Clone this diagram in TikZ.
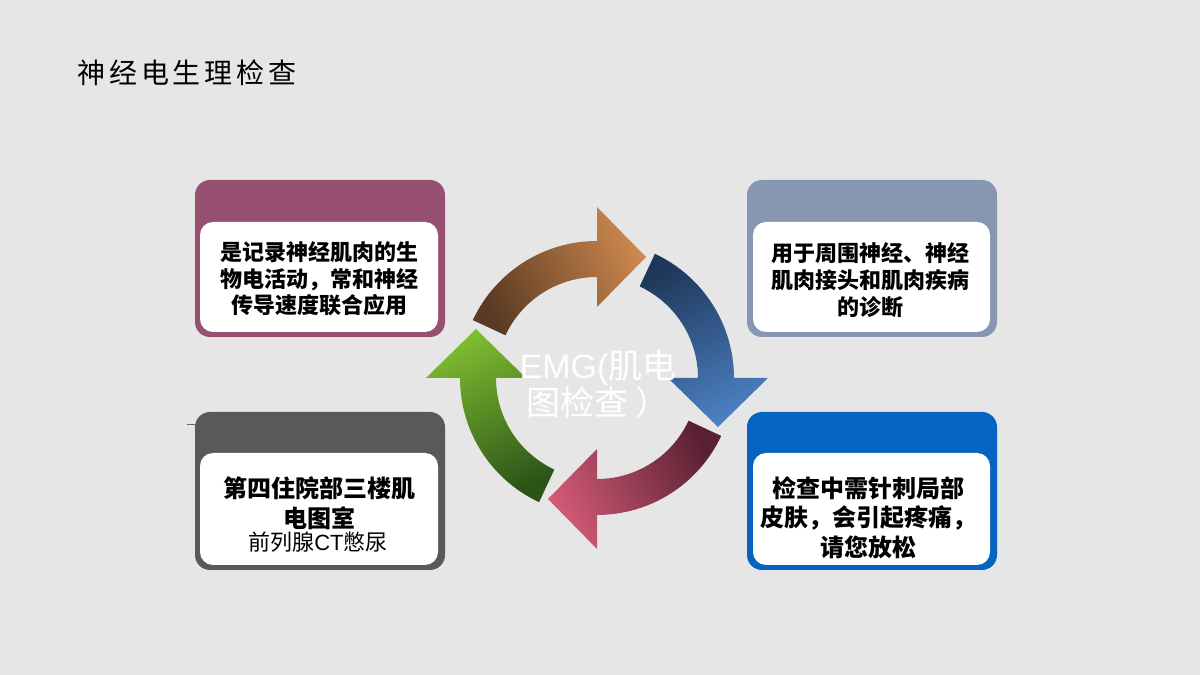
\documentclass[tikz,border=0pt]{standalone}
\usepackage{fontspec}
\setmainfont{Liberation Sans}
\newfontfamily\cjk{Noto Sans CJK SC}
\newfontfamily\cjkt{Noto Sans CJK SC}[LetterSpace=14]
\usetikzlibrary{calc}
\definecolor{bg}{RGB}{230,230,230}
\definecolor{cTL}{RGB}{151,80,114}
\definecolor{cTR}{RGB}{135,151,177}
\definecolor{cBL}{RGB}{89,89,89}
\definecolor{cBR}{RGB}{5,99,193}
\definecolor{oD}{RGB}{90,58,34}
\definecolor{oL}{RGB}{204,136,78}
\definecolor{bD}{RGB}{31,56,90}
\definecolor{bL}{RGB}{76,128,194}
\definecolor{pD}{RGB}{88,32,50}
\definecolor{pL}{RGB}{210,90,118}
\definecolor{gD}{RGB}{44,84,24}
\definecolor{gL}{RGB}{126,188,48}
\newcommand\cyclearrow[2]{%
  \shade[#2] ($(C)+(#1+65:137)$) arc[start angle=#1+65, end angle=#1, radius=137]
    -- ($(C)+(#1:171)$) -- ($(C)+(#1:121)+(#1-90:49)$) -- ($(C)+(#1:71)$)
    -- ($(C)+(#1:101)$) arc[start angle=#1, end angle=#1+65, radius=101] -- cycle;}
\begin{document}
\begin{tikzpicture}[x=1pt,y=1pt,
  outerbox/.style={rounded corners=15pt},
  innerbox/.style={fill=white, rounded corners=13pt},
  boxtext/.style={align=center, text=black, inner sep=0pt},
  topfont/.style={font=\cjk\bfseries\fontsize{22}{26.5}\selectfont},
  botfont/.style={font=\cjk\bfseries\fontsize{24}{29.5}\selectfont},
]
\fill[bg] (0,0) rectangle (1200,675);
\useasboundingbox (0,0) rectangle (1200,675);

\node[anchor=west, inner sep=0pt, font=\cjkt\fontsize{28}{32}\selectfont] (title) at (77,602) {神经电生理检查};

% boxes
\fill[cTL, outerbox] (195,338) rectangle (445,495);
\fill[innerbox] (200,343) rectangle (438,453);
\fill[cTR, outerbox] (747,338) rectangle (997,495);
\fill[innerbox] (753,343) rectangle (990,453);
\fill[cBL, outerbox] (195,105) rectangle (445,263);
\fill[innerbox] (200,110) rectangle (438,222);
\fill[cBR, outerbox] (747,105) rectangle (997,263);
\fill[innerbox] (753,110) rectangle (990,222);

\coordinate (s1) at (187,251);
\coordinate (s2) at (196,251);
\draw[gray!80!black, line width=0.8pt] (s1) -- (s2);

\node[boxtext, topfont] (tl) at (319,396) {是记录神经肌肉的生\\物电活动，常和神经\\传导速度联合应用};
\node[boxtext, font=\cjk\bfseries\fontsize{22}{27}\selectfont] (tr) at (870,395) {用于周围神经、神经\\肌肉接头和肌肉疾病\\的诊断};
\node[boxtext, botfont] (br) at (868,157.5) {检查中需针刺局部\\皮肤，会引起疼痛，\\请您放松};
\node[boxtext, font=\cjk\bfseries\fontsize{24}{30}\selectfont] (bl) at (319,172) {第四住院部三楼肌\\电图室};
\node[boxtext, font=\fontsize{22}{26}\selectfont] (bl2) at (318,133) {{\cjk 前列腺}CT{\cjk 憋尿}};

% cycle arrows
\coordinate (C) at (597,297);
\cyclearrow{90}{bottom color=oD, top color=oL, shading angle=-65}
\cyclearrow{0}{bottom color=bD, top color=bL, shading angle=-155}
\cyclearrow{270}{bottom color=pD, top color=pL, shading angle=115}
\cyclearrow{180}{bottom color=gD, top color=gL, shading angle=25}

\node[text=white, align=center, inner sep=0pt, font=\fontsize{34}{36}\selectfont] (emg) at (598,290.5) {EMG({\cjk 肌电}\\{\cjk 图检查 ）}};
\end{tikzpicture}
\end{document}
